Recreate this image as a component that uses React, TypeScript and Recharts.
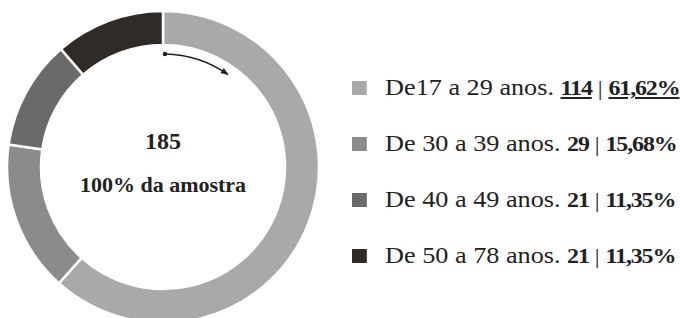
import React from "react";
import { PieChart, Pie, Cell, Legend, Customized } from "recharts";

const categories = ["De17 a 29 anos.", "De 30 a 39 anos.", "De 40 a 49 anos.", "De 50 a 78 anos."];
const counts = [114, 29, 21, 21];
const percents = ["61,62%", "15,68%", "11,35%", "11,35%"];
const colors = ["#a9a9a9", "#8b8b8b", "#6a6a6a", "#2e2b29"];
const centerLines = ["185", "100% da amostra"];

const data = categories.map((name, i) => ({ name, value: counts[i], pct: percents[i] }));

const serif = "'Liberation Serif', 'Times New Roman', serif";
const CX = 163;
const CY = 167;
const INNER = 122;
const OUTER = 156;

const CenterLabel = () => {
  const cx = CX, cy = CY, r = INNER - 9;
  const a0 = (89 * Math.PI) / 180;
  const a1 = (55 * Math.PI) / 180;
  const x0 = cx + r * Math.cos(a0), y0 = cy - r * Math.sin(a0);
  const x1 = cx + r * Math.cos(a1), y1 = cy - r * Math.sin(a1);
  const tx = Math.sin(a1), ty = Math.cos(a1);
  const nx = -ty, ny = tx;
  const ah = 7, aw = 3;
  const p1 = `${x1 + tx * 1},${y1 + ty * 1}`;
  const p2 = `${x1 - tx * ah + nx * aw},${y1 - ty * ah + ny * aw}`;
  const p3 = `${x1 - tx * ah - nx * aw},${y1 - ty * ah - ny * aw}`;
  return (
    <g>
      <text x={cx} y={cy - 18} textAnchor="middle" fontFamily={serif} fontWeight="bold" fontSize={24} fill="#222">
        {centerLines[0]}
      </text>
      <text x={cx} y={cy + 25} textAnchor="middle" fontFamily={serif} fontWeight="bold" fontSize={22} fill="#222">
        {centerLines[1]}
      </text>
      <circle cx={x0} cy={y0} r={2.2} fill="#222" />
      <path d={`M${x0},${y0} A${r},${r} 0 0 1 ${x1},${y1}`} stroke="#222" strokeWidth={1.5} fill="none" />
      <polygon points={`${p1} ${p2} ${p3}`} fill="#222" />
    </g>
  );
};

const boldStyle = { fontSize: 21, letterSpacing: "-1px" };

const LegendContent = () => (
  <div style={{ fontFamily: serif, fontSize: 23, color: "#222", transform: "scaleX(1.14)", transformOrigin: "left center" }}>
    {data.map((d, i) => (
      <div key={d.name} style={{ display: "flex", alignItems: "center", height: 56, whiteSpace: "nowrap" }}>
        <span style={{ display: "inline-block", width: 13, height: 14, background: colors[i], marginRight: 16 }} />
        <span>
          {d.name}{" "}
          <b style={{ ...boldStyle, textDecoration: i === 0 ? "underline" : "none" }}>{d.value}</b>
          <span style={{ fontSize: 21 }}> | </span>
          <b style={{ ...boldStyle, textDecoration: i === 0 ? "underline" : "none" }}>{d.pct}</b>
        </span>
      </div>
    ))}
  </div>
);

export default function App() {
  return (
    <div style={{ position: "absolute", left: 0, top: 0, background: "#fff" }}>
      <PieChart width={681} height={318} margin={{ top: 0, right: 0, bottom: 0, left: 0 }}>
        <Pie
          data={data}
          dataKey="value"
          nameKey="name"
          cx={CX}
          cy={CY}
          innerRadius={INNER}
          outerRadius={OUTER}
          startAngle={90}
          endAngle={-270}
          stroke="#fff"
          strokeWidth={2.5}
          isAnimationActive={false}
        >
          {data.map((d, i) => (
            <Cell key={d.name} fill={colors[i]} />
          ))}
        </Pie>
        <Customized component={CenterLabel} />
        <Legend
          content={LegendContent}
          layout="vertical"
          wrapperStyle={{ position: "absolute", left: 352, top: 60, width: 329 }}
        />
      </PieChart>
    </div>
  );
}
